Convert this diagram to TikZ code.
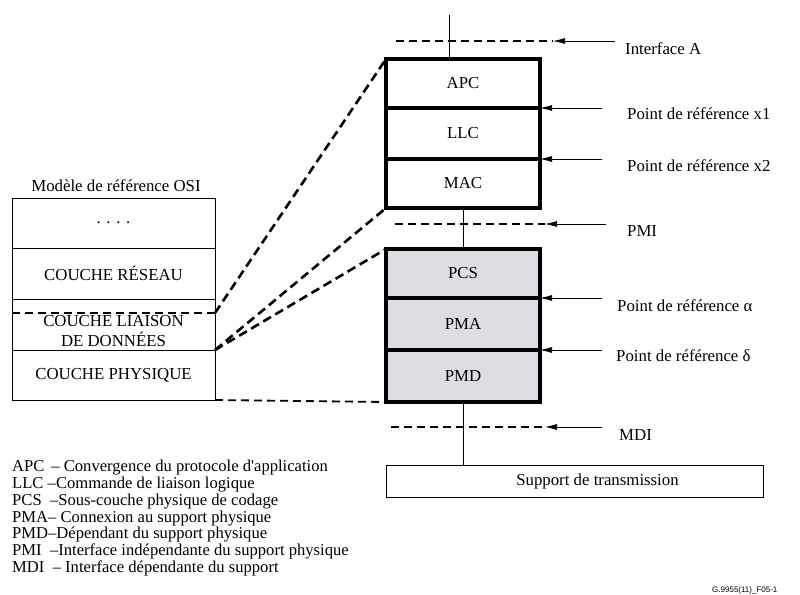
\documentclass[tikz,border=0pt]{standalone}
\usepackage{fontspec}
\setmainfont{Liberation Serif}
\newfontfamily\codefont{Liberation Sans}
\usetikzlibrary{arrows.meta}
\definecolor{layerfill}{RGB}{220,222,228}
\begin{document}
\begin{tikzpicture}[x=1pt,y=-1pt,
  every node/.style={font=\fontsize{16.8}{19}\selectfont},
  osibox/.style={draw, line width=0.8pt, minimum width=203pt, inner sep=0pt, outer sep=0pt, align=center},
  layer/.style={draw, line width=3.2pt, minimum width=154pt, inner sep=0pt, outer sep=0pt},
  physlayer/.style={layer, fill=layerfill},
  thinline/.style={line width=0.8pt},
  arr/.style={line width=0.7pt, -{Latex[length=12pt,width=6pt]}},
  ifline/.style={line width=1.6pt, dash pattern=on 8pt off 5pt},
  mapline/.style={line width=2.6pt, dash pattern=on 9pt off 5pt},
  reflabel/.style={anchor=west, inner sep=0pt},
]
\useasboundingbox (0,0) rectangle (800,594);

% OSI reference model column
\node (osititle) at (116,186) {Modèle de référence OSI};
\node[osibox, minimum height=50pt] (dots) at (113.5,223) {. . . .};
\node[osibox, minimum height=51pt] (reseau) at (113.5,273.5) {COUCHE RÉSEAU};
\node[osibox, minimum height=51pt] (liaison) at (113.5,324.5) {};
\node[align=center, font=\fontsize{16.8}{19.5}\selectfont] (liaisontext) at (113.5,331) {COUCHE LIAISON\\DE DONNÉES};
\node[osibox, minimum height=50pt] (physique) at (113.5,375) {COUCHE PHYSIQUE};

% Upper protocol stack
\node[layer, minimum height=49pt] (apc) at (463,83.5) {APC};
\node[layer, minimum height=51pt] (llc) at (463,133.5) {LLC};
\node[layer, minimum height=49pt] (mac) at (463,183.5) {MAC};

% Physical layer stack
\node[physlayer, minimum height=49pt] (pcs) at (463,273.5) {PCS};
\node[physlayer, minimum height=52pt] (pma) at (463,324) {PMA};
\node[physlayer, minimum height=52pt] (pmd) at (463,376) {PMD};

% Transmission medium (label set right of centre)
\node[draw, thinline, minimum width=377pt, minimum height=32pt, inner sep=0pt] (support) at (574.5,481) {\hspace*{46pt}Support de transmission};

% Vertical links
\coordinate (topend) at (449,15);
\draw[thinline] (topend) -- (topend |- apc.north);
\draw[thinline] (mac.south) -- (pcs.north);
\draw[thinline] (pmd.south) -- (pmd.south |- support.north);

% Interfaces and reference points
\coordinate (ifAstart) at (396,41);
\coordinate (ifAend) at (553,41);
\coordinate (ifAsrc) at (615,41);
\draw[ifline] (ifAstart) -- (ifAend);
\draw[arr] (ifAsrc) -- (ifAend);
\node[reflabel] (ifA) at (625,49) {Interface A};

\coordinate (x1src) at (602,108);
\draw[arr] (x1src) -- (apc.south east);
\node[reflabel] (x1) at (627,114) {Point de référence x1};

\coordinate (x2src) at (602,159);
\draw[arr] (x2src) -- (llc.south east);
\node[reflabel] (x2) at (627,166) {Point de référence x2};

\coordinate (pmistart) at (395,224);
\coordinate (pmiend) at (545,224);
\coordinate (pmisrc) at (606,224);
\draw[ifline] (pmistart) -- (pmiend);
\draw[arr] (pmisrc) -- (pmiend);
\node[reflabel] (pmi) at (627,231) {PMI};

\coordinate (alphasrc) at (602,298);
\draw[arr] (alphasrc) -- (pcs.south east);
\node[reflabel] (alpha) at (617,306) {Point de référence α};

\coordinate (deltasrc) at (602,350);
\draw[arr] (deltasrc) -- (pma.south east);
\node[reflabel] (delta) at (616,356) {Point de référence δ};

\coordinate (mdistart) at (391,427);
\coordinate (mdiend) at (545,427);
\coordinate (mdisrc) at (602,427);
\draw[ifline] (mdistart) -- (mdiend);
\draw[arr] (mdisrc) -- (mdiend);
\node[reflabel] (mdi) at (619,435) {MDI};

% Mapping of the OSI data link layer onto the stacks
\coordinate (cutwest) at (12,313);
\coordinate (cuteast) at (215,313);
\draw[line width=1.6pt, dash pattern=on 8pt off 5pt] (cutwest) -- (cuteast);
\draw[mapline] (cuteast) -- (apc.north west);
\draw[mapline] (liaison.south east) -- (mac.south west);
\draw[mapline] (liaison.south east) -- (pcs.north west);
\draw[line width=1.8pt, dash pattern=on 8pt off 5pt] (physique.south east) -- (pmd.south west);

% Abbreviations
\node[anchor=north west, align=left, inner sep=0pt, font=\fontsize{16.6}{16.8}\selectfont] (legend) at (12,460) {%
APC\,\ – Convergence du protocole d\textquotesingle application\\
LLC –Commande de liaison logique\\
PCS\ \ –Sous-couche physique de codage\\
PMA– Connexion au support physique\\
PMD–Dépendant du support physique\\
PMI\ \ –Interface indépendante du support physique\\
MDI\ \ – Interface dépendante du support};

% Figure code
\node[anchor=base west, inner sep=0pt, font=\codefont\fontsize{8}{10}\selectfont] (figcode) at (712,592) {G.9955(11)\_F05-1};
\end{tikzpicture}
\end{document}
